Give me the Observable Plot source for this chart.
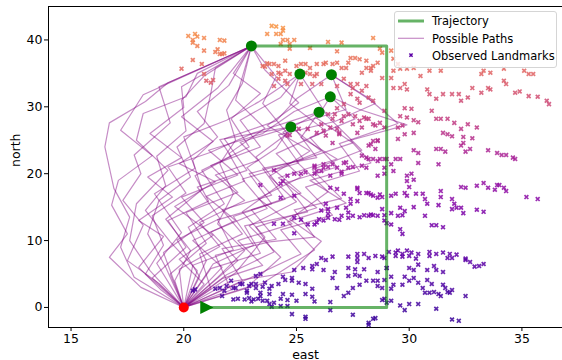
<!DOCTYPE html>
<html>
<head>
<meta charset="utf-8">
<script src="https://cdn.jsdelivr.net/npm/d3@7"></script>
<script src="https://cdn.jsdelivr.net/npm/@observablehq/plot@0.6"></script>
<style>
  body { margin: 0; background: #fff; }
  #wrap { position: relative; width: 562px; height: 360px; font-family: "DejaVu Sans", sans-serif; }
  #legend { position: absolute; left: 394px; top: 11px; width: 163px; height: 57px; box-sizing: border-box;
    border: 1px solid #d5d5d5; border-radius: 3px; background: rgba(255,255,255,0.8); }
  #wrap g[aria-label$="tick label"], #wrap g[aria-label$="tick label"] text { font-size: 12.5px !important; }
</style>
</head>
<body>
<div id="wrap"></div>
<script>
// ---- data ----
const xTicks = [15, 20, 25, 30, 35];
const yTicks = [0, 10, 20, 30, 40];
const startPoint = [[20, 0]];
const startPose = [[21, 0]];
const trajectory = [[21, 0], [29, 0], [29, 39.1], [23, 39.1]];
const endPoints = [[23, 39.1], [25.15, 34.9], [26.55, 34.8], [26.5, 31.5], [26.0, 29.2], [24.75, 27.0]];
const legendLabels = ["Trajectory", "Possible Paths", "Observed Landmarks"];

const paths = [
  [[20,0],[17.8,4.5],[17.2,9],[17.6,13.5],[16.9,17.8],[16.5,24],[16.7,27.6],[18.3,30.8],[19.3,33.6],[23,39.1]],
  [[20,0],[18.5,5.5],[17.6,10],[17.9,15.5],[19.3,20.5],[17.9,25],[18.2,29],[20.1,31.5],[20.6,35],[23,39.1]],
  [[20,0],[19.2,6],[18.4,11],[18.9,16],[20.3,19.5],[19.7,24],[20.9,27.5],[21.2,32],[21.4,35.8],[23,39.1]],
  [[20,0],[20.6,5.5],[19.4,9.8],[18.3,14.5],[19.2,18.2],[18.8,22.6],[20.1,26.4],[19.9,31],[20.9,34.6],[23,39.1]],
  [[20,0],[21.5,4.5],[22.7,8.5],[21.5,12.5],[22.2,17],[21.6,21.5],[22.3,25],[21.9,29.5],[22.6,33.5],[23,39.1]],
  [[20,0],[18.9,3.6],[17.5,7],[18.2,12.3],[17.3,16],[18.1,20],[17.8,22.8],[19.4,27.6],[18.9,33],[23,39.1]],
  [[20,0],[21,7],[20.2,12],[21.8,15.5],[20.8,20.5],[22.9,24],[22.1,28.2],[23.4,32],[22.2,35],[23,39.1]],
  [[20,0],[22.3,5.2],[23.6,10.5],[22.6,14.3],[24.2,18.2],[23.2,22.5],[24.6,26],[23.5,30.5],[24.1,34.5],[23,39.1]],
  [[20,0],[19.6,4],[20.3,8.5],[19.2,13.2],[20.8,17.6],[20.4,22],[21.5,25.5],[20.6,29.3],[22,33.2],[23,39.1]],
  [[20,0],[18.1,3],[16.7,7.5],[17.5,11],[16.8,15.3],[17.1,19],[18.6,22.7],[17.2,26.5],[18.2,31.8],[23,39.1]],
  [[20,0],[20.9,3.5],[19.8,7.2],[21.3,10.8],[19.6,15.1],[21.4,18.8],[19.8,21.5],[21.3,24.8],[19.9,28.5],[21.5,32.8],[23,39.1]],
  [[20,0],[22.8,3],[24.3,7.5],[22.9,12.2],[25,15.8],[23.8,19.6],[25.6,23.4],[23.7,27.2],[25.1,30.6],[23.6,35.5],[23,39.1]],
  [[20,0],[19,2.6],[18,6],[19.1,10.6],[18,13],[19.5,16.5],[18.4,19.5],[19.9,22.4],[18.5,26],[20,29.9],[19.9,33],[23,39.1]],
  [[20,0],[21.7,6],[20.4,10],[22.3,13],[21,16.6],[22.7,18.9],[22,23],[23.6,26.8],[22.3,31],[23,39.1]],
  [[20,0],[21.7,4.3],[23.5,6.3],[22.4,10],[24.8,12.5],[23.3,16.3],[25.2,19.5],[24.1,23],[26.3,26.4],[24.7,30.5],[25.15,34.9]],
  [[20,0],[19.4,5],[21,9.6],[20.1,14.2],[22.4,17.2],[21.2,21.2],[23.4,24],[22.5,28],[24.3,31.4],[25.15,34.9]],
  [[20,0],[22.1,2.6],[21.4,7.8],[23.8,9.8],[25.8,10.5],[24.9,14.6],[27,16.3],[25.7,20.6],[27.9,23.5],[26.4,28.5],[25.15,34.9]],
  [[20,0],[18.8,6.6],[19.9,11.2],[18.7,17],[20.5,20.8],[20,25.5],[21.9,28],[23.3,30.7],[25.15,34.9]],
  [[20,0],[23,4.5],[25.2,8],[24.3,11.6],[26.6,13.8],[25.4,18],[27.8,20.4],[26.9,24.5],[29.5,27.5],[28.1,31.5],[26.55,34.8]],
  [[20,0],[21.3,6.5],[23.1,9.3],[22.2,13.6],[24.5,16.2],[23.5,20.8],[25.9,22.4],[24.8,27.3],[27.2,29.6],[26.55,34.8]],
  [[20,0],[20.7,4.6],[19.7,10.1],[21.6,13.3],[20.6,18],[22.8,20.5],[21.8,25.2],[24.1,27.9],[25,31.2],[26.55,34.8]],
  [[20,0],[22.4,7],[21.2,11.3],[23.7,14.8],[22.6,19.2],[25.1,21.6],[24.2,25.8],[26.7,27.8],[28.5,30.5],[26.55,34.8]],
  [[20,0],[23.5,3.6],[25.8,8.6],[24.6,12.8],[27.2,15.6],[25.6,19],[28.3,21.6],[27.4,25],[29.9,27.3],[27.8,29.6],[26.5,31.5]],
  [[20,0],[21.2,5.8],[23.4,8.1],[22.7,12.2],[25.5,14.3],[24.5,18.6],[26.8,21],[25.6,25.4],[27.6,28.2],[26.5,31.5]],
  [[20,0],[19.1,8.2],[20.9,12.7],[19.9,16.5],[22.4,19.8],[21.1,23.5],[23.5,26],[24.9,29.3],[26.5,31.5]],
  [[20,0],[22,3.8],[24.8,5.3],[26.1,9.9],[24.7,13.2],[26.4,17.3],[25,21.8],[27.5,24.6],[25.9,28.3],[26.5,31.5]],
  [[20,0],[20.4,6.3],[22.2,8.6],[21.5,13.1],[23.9,15.5],[22.9,20],[25.3,22.2],[24.4,26.2],[26,29.2]],
  [[20,0],[21.9,4.9],[24,8.3],[23.2,12],[25.9,14.9],[24.2,19.4],[26.8,22.2],[25.2,25.4],[26,29.2]],
  [[20,0],[18.3,5],[19.1,9.3],[18.6,13.7],[20.1,17.1],[19.3,21],[21.2,23.2],[23.1,26.1],[26,29.2]],
  [[20,0],[21.2,2.8],[20.7,8],[22.6,11],[21.7,14.6],[23.9,16.8],[22.8,20.9],[24.1,23.8],[24.75,27]],
  [[20,0],[19.8,5.7],[21.6,9.1],[20.7,12.7],[22.7,16],[21.4,19.8],[23.3,22],[22.5,24.7],[24.75,27]],
  [[20,0],[22.6,4],[21.7,8.8],[24.1,10.2],[23,14.6],[25.2,17.1],[24,20.6],[26.1,23.4],[24.75,27]],
  [[20,0],[18.6,4.4],[20.1,9],[19.3,13],[21.1,15.9],[20.5,19.7],[22.1,22.6],[21.6,25.1],[24.75,27]]
];

const landmarks = [
  [20.2,40.6],[20.5,40.9],[20.6,40.5],[20.9,40.3],[20.4,40.0],[20.6,39.1],[20.9,38.4],[21.4,38.2],[21.6,40.0],[21.8,39.9],[20.8,36.4],[20.4,37.0],[19.9,35.7],[21.6,37.9],[21.8,38.0],[20.9,34.9],[21.0,33.9],[21.3,34.0],[21.5,38.6],[21.7,37.9],[20.4,39.6],[21.2,33.6],
  [23.9,42.1],[24.1,42.0],[24.4,41.8],[23.7,40.9],[24.1,40.9],[24.3,40.9],[24.4,40.0],[24.3,39.4],[24.6,40.0],[24.9,40.0],[24.7,39.4],[24.7,38.7],[25.6,38.8],[26.4,39.7],[27.0,39.6],[26.8,38.3],[28.4,40.3],[28.8,38.1],[28.7,38.7],[24.4,41.4],
  [23.5,36.1],[23.6,36.0],[23.8,36.4],[23.7,36.5],[24.0,36.4],[24.2,36.1],[24.5,36.9],[24.2,35.1],[24.3,34.9],[24.5,35.4],[24.7,34.9],[23.9,34.9],[24.2,34.2],[24.5,33.9],[24.6,33.4],[24.0,33.1],[25.0,36.1],[25.2,36.4],[25.4,36.4],[25.6,35.8],[25.9,36.4],[25.6,34.9],[25.8,34.6],[26.2,36.4],[26.3,36.6],[26.6,36.4],[26.8,36.6],[27.0,35.8],[27.2,35.8],[27.4,37.3],[27.3,36.6],[27.6,37.3],[27.8,37.1],[28.1,35.8],[27.9,35.1],[28.1,36.9],[28.3,35.8],[28.4,36.1],[28.6,36.6],[28.3,35.4],[28.8,34.3],
  [26.1,33.4],[26.8,33.1],[27.5,32.8],[27.7,33.4],[27.9,32.4],[28.1,33.1],[27.7,31.2],[27.1,30.4],[26.8,29.8],[26.4,28.9],[26.6,28.2],[27.0,27.9],[27.6,28.6],[27.5,27.4],[28.0,28.4],[28.2,28.2],[27.9,26.9],[25.5,26.7],[25.9,26.1],[26.2,26.4],[26.3,25.7],[26.8,26.7],[24.6,25.7],[27.1,34.2],[27.4,33.4],[25.4,35.1],[25.9,34.9],[25.2,33.4],[25.7,33.4],[27.4,31.9],[27.8,30.6],[28.2,31.4],[28.4,30.9],[28.9,29.4],[27.3,28.9],[27.8,27.9],[28.1,28.2],[28.4,27.4],[28.5,27.2],[28.7,27.6],[28.9,26.9],[28.4,24.9],[28.6,25.0],[26.9,26.1],[26.5,26.9],[26.1,27.4],[25.1,26.7],[24.7,25.8],[26.6,24.6],[26.7,28.9],[27.1,28.6],[26.9,25.9],[27.7,26.1],[28.2,24.2],[27.9,22.7],
  [29.5,36.4],[29.3,35.4],[29.2,34.3],[30.2,35.8],[30.5,34.6],[30.9,35.4],[31.4,35.4],[33.2,34.9],[33.3,35.4],[34.2,33.9],[34.3,33.4],[35.1,35.4],[35.3,34.9],[35.5,34.9],[29.2,38.4],[29.3,37.2],[29.6,35.7],[29.9,35.7],[33.6,35.1],[34.2,35.7],
  [29.3,32.8],[29.6,32.8],[29.9,32.6],[29.8,33.4],[30.8,32.6],[30.9,31.9],[31.2,31.2],[31.5,31.9],[31.9,31.9],[32.2,31.9],[32.3,30.9],[32.6,31.4],[32.8,32.8],[33.2,32.1],[33.5,32.8],[33.6,32.6],[34.7,32.1],[34.9,32.3],[35.3,31.6],[35.7,31.5],[36.1,30.9],[36.2,30.4],
  [29.8,29.8],[30.1,29.7],[29.6,28.6],[29.9,28.4],[30.2,28.0],[30.4,27.7],[29.7,27.2],[29.5,26.9],[30.2,26.1],[29.5,25.2],[29.8,25.9],[31.0,29.4],[31.2,28.2],[31.4,28.2],[31.7,28.2],[32.0,27.6],[32.6,27.4],[32.3,26.7],[33.0,26.9],[31.5,26.1],[31.7,25.9],[31.9,25.6],[32.4,25.5],[32.8,25.3],
  [30.2,23.5],[30.4,23.1],[31.2,23.7],[31.4,23.7],[31.6,23.3],[32.3,24.2],[32.4,24.6],[32.5,23.3],[32.7,23.7],[33.5,23.5],[33.9,23.1],[34.1,22.8],[34.3,22.8],[34.6,22.4],[34.7,22.2],[30.4,21.6],[31.3,21.4],
  [29.0,22.2],[29.4,22.2],[29.6,22.2],[28.9,20.9],[29.2,21.4],[29.3,20.4],[29.9,19.7],[30.1,20.0],[29.9,18.9],[30.2,19.1],[30.0,18.0],[32.3,18.0],[32.5,17.9],[33.0,18.2],[33.3,18.6],[33.5,17.9],[33.9,18.3],[34.0,18.3],[33.8,17.6],[34.2,17.9],[34.3,17.4],[35.2,16.5],[35.7,16.2],
  [28.8,16.5],[29.2,16.7],[29.4,17.0],[29.8,17.1],[29.9,16.7],[30.3,17.0],[30.6,17.0],[30.7,16.2],[31.4,17.4],[31.4,16.5],[31.9,16.2],[31.3,15.3],[30.8,15.5],[30.2,15.0],[29.6,14.9],[29.8,14.4],[29.7,13.8],[29.2,14.1],[28.8,14.7],[32.0,15.5],[32.1,14.9],[32.3,14.9],[31.9,14.7],[32.4,14.1],[33.0,14.6],[33.3,14.3],[30.7,13.7],[29.5,13.7],[29.0,12.6],[29.2,12.4],[31.0,12.3],[31.2,12.3],[31.5,12.0],[29.6,11.7],[29.7,11.0],
  [29.1,8.3],[29.4,8.2],[29.5,8.5],[29.7,8.0],[29.9,8.5],[30.1,8.2],[30.4,8.0],[30.9,8.3],[30.9,7.7],[31.2,8.0],[31.5,8.2],[31.8,8.0],[32.1,7.9],[31.9,7.4],[32.5,7.3],[29.4,7.7],[29.7,7.6],[30.0,7.7],[30.3,7.3],[31.7,7.4],[32.5,7.1],[32.7,6.8],[32.9,6.1],[33.1,6.2],[33.3,6.5],[28.8,7.6],[29.0,5.9],[30.0,5.9],[30.2,5.6],[30.4,6.4],[30.8,5.6],[31.1,6.2],[31.2,5.6],[31.5,5.3],
  [29.2,4.6],[29.8,4.6],[30.2,4.4],[30.0,4.0],[30.4,3.7],[29.7,3.4],[29.3,3.4],[29.2,2.8],[28.8,2.9],[30.8,4.1],[31.0,3.5],[30.6,2.9],[30.7,2.2],[30.9,2.2],[31.1,2.3],[31.3,2.0],[31.5,3.4],[31.6,2.9],[31.4,1.7],[31.7,2.3],[31.8,2.2],[31.9,2.6],[32.5,1.7],[28.8,1.1],[29.2,1.0],[29.6,0.3],[30.0,0.5],[30.4,0.5],[29.8,-0.4],[31.2,-0.2],[31.9,-1.8],[32.2,-2.0],
  [26.1,7.4],[26.3,7.1],[26.6,7.6],[25.9,6.5],[27.3,7.6],[27.7,8.0],[27.7,7.4],[28.0,8.0],[28.2,7.4],[28.5,7.7],[27.7,6.8],[28.9,7.4],[25.3,5.9],[25.7,6.2],[25.7,5.7],[26.2,5.6],[26.7,5.3],[27.3,5.9],[27.6,5.7],[28.0,5.7],[28.6,5.3],[24.9,5.6],[24.8,4.4],[24.4,4.6],[27.3,4.7],[27.6,4.9],[27.8,4.7],[28.1,4.0],[28.4,4.0],[28.6,4.0],[28.9,4.1],[28.6,3.2],[27.8,3.4],[27.5,2.9],[27.3,2.2],[27.1,1.7],[26.8,2.9],[26.6,4.4],
  [22.3,2.9],[22.6,3.5],[22.9,3.2],[23.2,3.5],[23.6,3.7],[23.9,3.2],[24.2,3.5],[24.5,4.1],[24.8,4.0],[25.1,3.7],[25.4,3.5],[23.2,2.9],[23.5,3.1],[23.8,2.8],[22.8,2.2],[23.4,2.2],[23.8,2.0],[24.4,2.0],[24.8,1.9],[25.4,2.0],[25.7,2.8],[25.7,1.6],[25.8,0.9],[22.4,1.3],[22.7,1.2],[23.0,0.9],[23.3,1.3],[23.7,1.0],[23.8,0.5],[24.0,0.7],[24.3,1.3],[24.3,0.2],[24.6,1.1],[25.0,1.0],[24.6,0.2],[23.9,0.1],[26.5,0.8],[24.8,-1.0],[25.4,-1.4],[25.4,-1.7],[26.5,-0.4],[27.5,-1.1],[28.2,-2.3],[28.4,-1.7],[28.5,-1.6],[28.2,-2.6],[28.9,1.3],[29.0,0.7],[29.0,5.9],
  [20.4,2.5],[20.5,2.7],[21.4,2.8],[21.6,2.9],[21.9,3.2],[22.2,2.9],[21.8,2.5],[22.5,3.5],[22.8,2.5],[23.0,3.5],[23.2,4.7],[23.4,5.0],[22.9,1.4],[23.1,1.2],[23.4,1.7],[23.5,1.0],[22.2,1.2],[21.7,1.7],[22.1,4.0],
  [27.0,13.7],[27.3,13.4],[27.5,13.7],[27.8,13.5],[28.0,13.8],[28.2,13.7],[28.4,13.8],[28.6,13.7],[28.9,13.8],[26.7,13.2],[26.9,13.1],[26.4,13.4],[25.9,12.7],[25.5,12.4],[25.2,13.1],[24.9,13.4],[26.4,14.0],[26.8,14.9],[27.3,14.2],[27.4,15.5],[27.7,15.9],[26.5,17.9],[26.8,17.7],[27.1,17.0],[27.7,17.9],[27.8,17.1],[28.2,17.1],[28.4,16.7],[28.6,16.4],[26.3,15.5],[26.1,14.5],[24.9,16.7],[24.3,16.4],[24.0,12.5],[24.4,12.5],[24.9,11.1],[27.7,17.7],[28.1,17.1],[28.3,16.9],[28.7,16.9],[27.4,16.2],[27.2,14.9],[26.4,14.7],[26.0,13.2],[26.2,13.0],[28.3,13.9],[28.9,13.0],[25.8,12.4],
  [26.2,20.9],[26.4,21.0],[26.8,20.9],[27.1,21.6],[27.3,20.9],[27.5,21.0],[28.1,20.9],[28.2,22.2],[28.6,21.9],[28.9,22.2],[25.9,20.4],[25.8,21.0],[25.2,20.0],[24.9,20.0],[24.6,19.7],[24.4,18.9],[24.3,18.5],[28.6,19.7],[28.9,20.0],[28.5,23.7],[25.8,21.2],[26.2,21.4],[26.6,21.4],[27.0,20.3],[27.2,21.7],[27.9,21.2],[28.1,22.4],[28.4,22.2],[28.7,22.2],[28.3,24.4],[28.6,24.9],[25.4,20.2],[25.8,20.0],[26.1,20.4],[26.5,19.7],[27.0,20.0],[23.4,18.3],[24.0,20.5]
];

// ---- build ----
const pathRows = paths.flatMap((p, i) => p.map(([x, y]) => ({x, y, id: i})));
// color channel: shifted northing, mapped through a power (exponent 2) plasma scale
const colorShift = 24.3;
const lm = landmarks.map(([x, y]) => ({x, y, c: y + colorShift}));

const triRight = {
  draw(ctx, size) {
    const r = Math.sqrt(size / Math.PI);
    ctx.moveTo(1.3 * r, 0);
    ctx.lineTo(-1.1 * r, -1.2 * r);
    ctx.lineTo(-1.1 * r, 1.2 * r);
    ctx.closePath();
  }
};

const chart = Plot.plot({
  width: 562,
  height: 360,
  marginLeft: 48,
  marginRight: 0,
  marginTop: 6,
  marginBottom: 33,
  x: {domain: [14, 36.8]},
  y: {domain: [-3, 45]},
  color: {type: "pow", exponent: 2, scheme: "plasma", domain: [0, 76.9]},
  style: {fontFamily: "DejaVu Sans", fontSize: "12.5px", background: "white", overflow: "visible"},
  marks: [
    Plot.line(pathRows, {x: "x", y: "y", z: "id", stroke: "purple", strokeOpacity: 0.45, strokeWidth: 1.2}),
    Plot.dot(lm, {x: "x", y: "y", symbol: "times", r: 1.9, stroke: "c", strokeWidth: 1.7, strokeOpacity: 0.85}),
    Plot.line(trajectory, {x: d => d[0], y: d => d[1], stroke: "green", strokeOpacity: 0.6, strokeWidth: 3}),
    Plot.dot(startPoint, {x: d => d[0], y: d => d[1], r: 5, fill: "red"}),
    Plot.dot(startPose, {x: d => d[0], y: d => d[1], r: 5.5, fill: "green", symbol: triRight}),
    Plot.dot(endPoints, {x: d => d[0], y: d => d[1], r: 5.5, fill: "green"}),
    Plot.ruleX([14], {stroke: "black", strokeWidth: 1}),
    Plot.ruleY([-3], {stroke: "black", strokeWidth: 1}),
    Plot.ruleY([45], {stroke: "black", strokeWidth: 1}),
    Plot.axisX({ticks: xTicks, tickSize: 4, tickPadding: 3, label: null, fontSize: 12.5}),
    Plot.axisY({ticks: yTicks, tickSize: 4, tickPadding: 2, label: null, fontSize: 12.5}),
    Plot.text(["east"], {frameAnchor: "bottom", lineAnchor: "bottom", dy: 31, fontSize: 12.5, fill: "black"}),
    Plot.text(["north"], {frameAnchor: "left", dx: -33, rotate: -90, fontSize: 12.5, fill: "black"})
  ]
});

const wrap = document.getElementById("wrap");
wrap.appendChild(chart);

// legend overlay
const legend = document.createElement("div");
legend.id = "legend";
const ns = "http://www.w3.org/2000/svg";
const lsvg = document.createElementNS(ns, "svg");
lsvg.setAttribute("width", "161");
lsvg.setAttribute("height", "55");
lsvg.style.position = "absolute";
lsvg.style.left = "0px";
lsvg.style.top = "0px";
lsvg.style.overflow = "visible";
const samples = [
  {type: "line", stroke: "green", opacity: 0.6, width: 3},
  {type: "line", stroke: "purple", opacity: 0.45, width: 1.2},
  {type: "x", stroke: "#5c01a6"}
];
legendLabels.forEach((lab, i) => {
  const cy = 9 + i * 17.3;
  const s = samples[i];
  if (s.type === "line") {
    const l = document.createElementNS(ns, "line");
    l.setAttribute("x1", 3); l.setAttribute("x2", 29);
    l.setAttribute("y1", cy); l.setAttribute("y2", cy);
    l.setAttribute("stroke", s.stroke);
    l.setAttribute("stroke-opacity", s.opacity);
    l.setAttribute("stroke-width", s.width);
    lsvg.appendChild(l);
  } else {
    const p = document.createElementNS(ns, "path");
    const cx = 16, cyy = cy - 0.5, a = 1.6;
    p.setAttribute("d", `M${cx-a},${cyy-a}L${cx+a},${cyy+a}M${cx-a},${cyy+a}L${cx+a},${cyy-a}`);
    p.setAttribute("stroke", s.stroke);
    p.setAttribute("stroke-width", 1.5);
    lsvg.appendChild(p);
  }
  const t = document.createElementNS(ns, "text");
  t.setAttribute("x", 37);
  t.setAttribute("y", cy + 4.3);
  t.setAttribute("font-family", "DejaVu Sans");
  t.setAttribute("font-size", "11.5px");
  t.setAttribute("fill", "#000");
  t.textContent = lab;
  lsvg.appendChild(t);
});
legend.appendChild(lsvg);
wrap.appendChild(legend);
</script>
</body>
</html>
